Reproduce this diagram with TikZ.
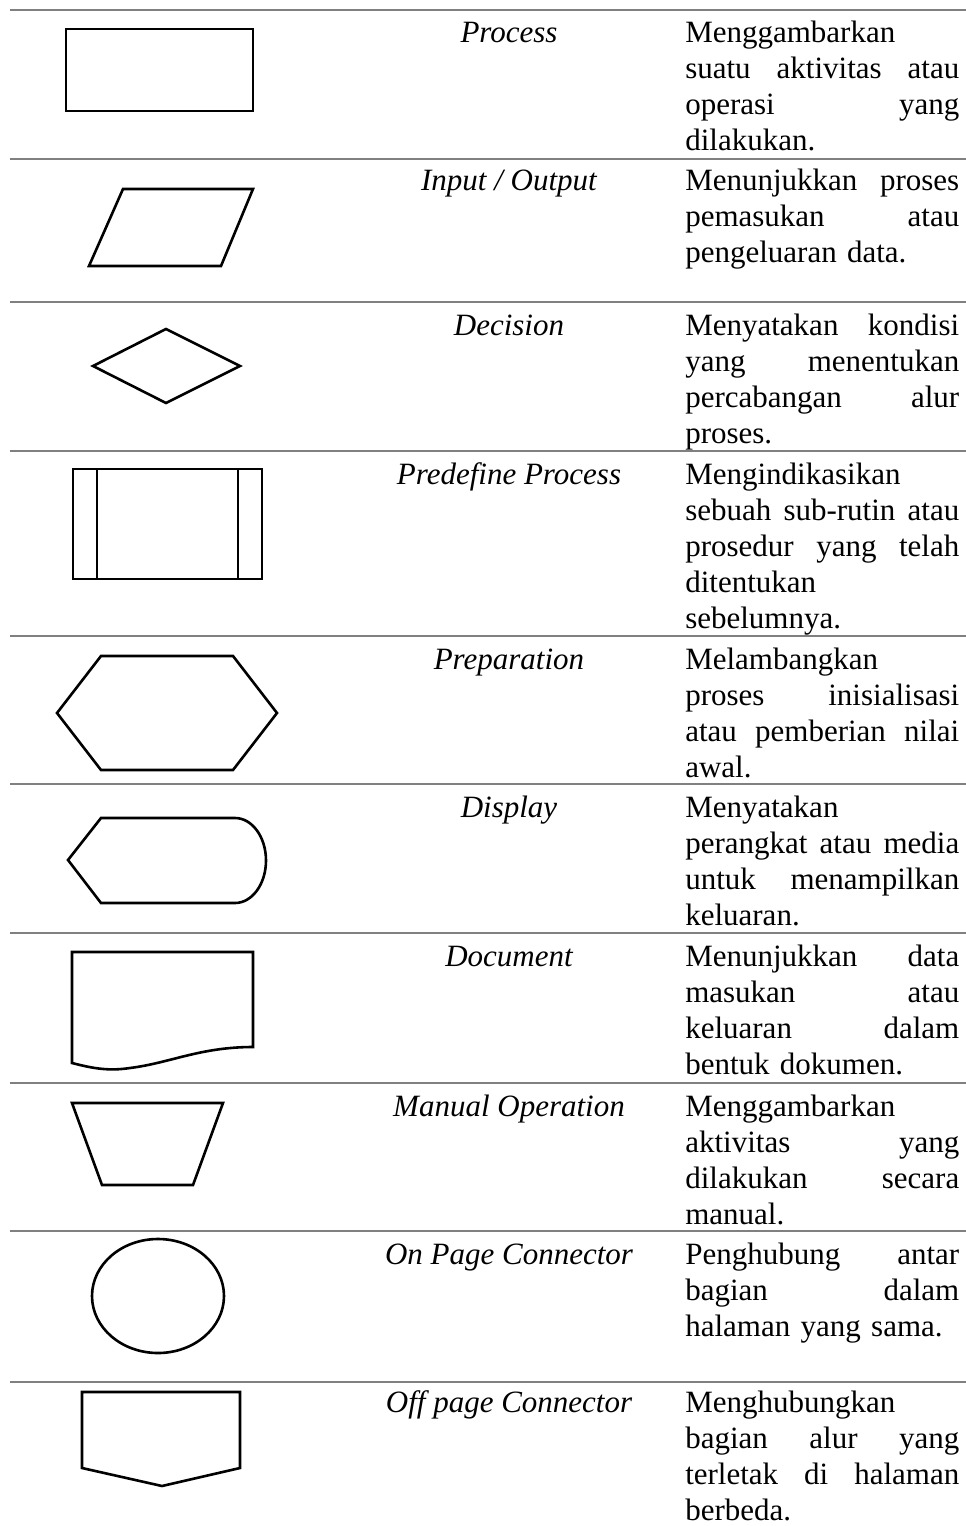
\documentclass[tikz,border=0pt]{standalone}
\usepackage{fontspec}
\setmainfont{Liberation Serif}
\definecolor{rulegray}{RGB}{128,128,128}
% one justified line of the description column (stretchable word spaces)
\newcommand{\jl}[1]{\makebox[205.5pt][s]{\spaceskip=0pt\xspaceskip=0pt #1}}
\begin{document}
\begin{tikzpicture}[x=0.75pt,y=-0.75pt,
  rowrule/.style={draw=rulegray,line width=1.9pt},
  symbol/.style={draw=black,line width=1.95pt,line join=miter},
  namecell/.style={font=\fontsize{23.25pt}{27pt}\selectfont\itshape,anchor=base,inner sep=0pt},
  desccell/.style={font=\fontsize{23.25pt}{27pt}\selectfont,anchor=base west,inner sep=0pt,
    text width=205.5pt,align=left}]
\useasboundingbox[fill=white] (0,0) rectangle (966,1526);

% row rules
\foreach \y in {10,159,302,451,636,784,933,1083,1231,1382}
  \draw[rowrule] (10,\y) -- (966,\y);

% symbols
\draw[symbol] (66,29) rectangle (253,111);
\draw[symbol] (123,189) -- (253,189) -- (221,266) -- (89,266) -- cycle;
\draw[symbol] (93,366) -- (166,329) -- (240,366) -- (166,403) -- cycle;
\draw[symbol] (73,469) rectangle (262,579);
\draw[symbol] (97,469) -- (97,579);
\draw[symbol] (238,469) -- (238,579);
\draw[symbol] (101,656) -- (233,656) -- (277,713) -- (233,770) -- (101,770) -- (57,713) -- cycle;
\draw[symbol] (101,818) -- (235,818) arc[start angle=-90,end angle=90,x radius=31,y radius=42.5]
  -- (101,903) -- (68,860) -- cycle;
\draw[symbol] (72,1063) -- (72,952) -- (253,952) -- (253,1047)
  .. controls (200,1047) and (170,1063) .. (130,1068)
  .. controls (110,1071) and (95,1069) .. (72,1063) -- cycle;
\draw[symbol] (72,1103) -- (223,1103) -- (193,1185) -- (102,1185) -- cycle;
\draw[symbol] (158,1296) ellipse [x radius=66,y radius=57];
\draw[symbol] (82,1392) -- (240,1392) -- (240,1468) -- (162,1486) -- (82,1468) -- cycle;

% symbol names
\node[namecell] (n1) at (509,43) {Process};
\node[namecell] (n2) at (509,191) {Input / Output};
\node[namecell] (n3) at (509,335) {Decision};
\node[namecell] (n4) at (509,484) {Predefine Process};
\node[namecell] (n5) at (509,669) {Preparation};
\node[namecell] (n6) at (509,817) {Display};
\node[namecell] (n7) at (509,966) {Document};
\node[namecell] (n8) at (509,1116) {Manual Operation};
\node[namecell] (n9) at (509,1264) {On Page Connector};
\node[namecell] (n10) at (509,1412) {Off page Connector};

% descriptions
\node[desccell] (d1) at (685,43) {Menggambarkan\\ \jl{suatu aktivitas atau}\\ \jl{operasi yang}\\ dilakukan.};
\node[desccell] (d2) at (685,191) {\jl{Menunjukkan proses}\\ \jl{pemasukan atau}\\ pengeluaran data.};
\node[desccell] (d3) at (685,335) {\jl{Menyatakan kondisi}\\ \jl{yang menentukan}\\ \jl{percabangan alur}\\ proses.};
\node[desccell] (d4) at (685,484) {Mengindikasikan\\ \jl{sebuah sub-rutin atau}\\ \jl{prosedur yang telah}\\ ditentukan\\ sebelumnya.};
\node[desccell] (d5) at (685,669) {Melambangkan\\ \jl{proses inisialisasi}\\ \jl{atau pemberian nilai}\\ awal.};
\node[desccell] (d6) at (685,817) {Menyatakan\\ \jl{perangkat atau media}\\ \jl{untuk menampilkan}\\ keluaran.};
\node[desccell] (d7) at (685,966) {\jl{Menunjukkan data}\\ \jl{masukan atau}\\ \jl{keluaran dalam}\\ bentuk dokumen.};
\node[desccell] (d8) at (685,1116) {Menggambarkan\\ \jl{aktivitas yang}\\ \jl{dilakukan secara}\\ manual.};
\node[desccell] (d9) at (685,1264) {\jl{Penghubung antar}\\ \jl{bagian dalam}\\ halaman yang sama.};
\node[desccell] (d10) at (685,1412) {Menghubungkan\\ \jl{bagian alur yang}\\ \jl{terletak di halaman}\\ berbeda.};
\end{tikzpicture}
\end{document}
